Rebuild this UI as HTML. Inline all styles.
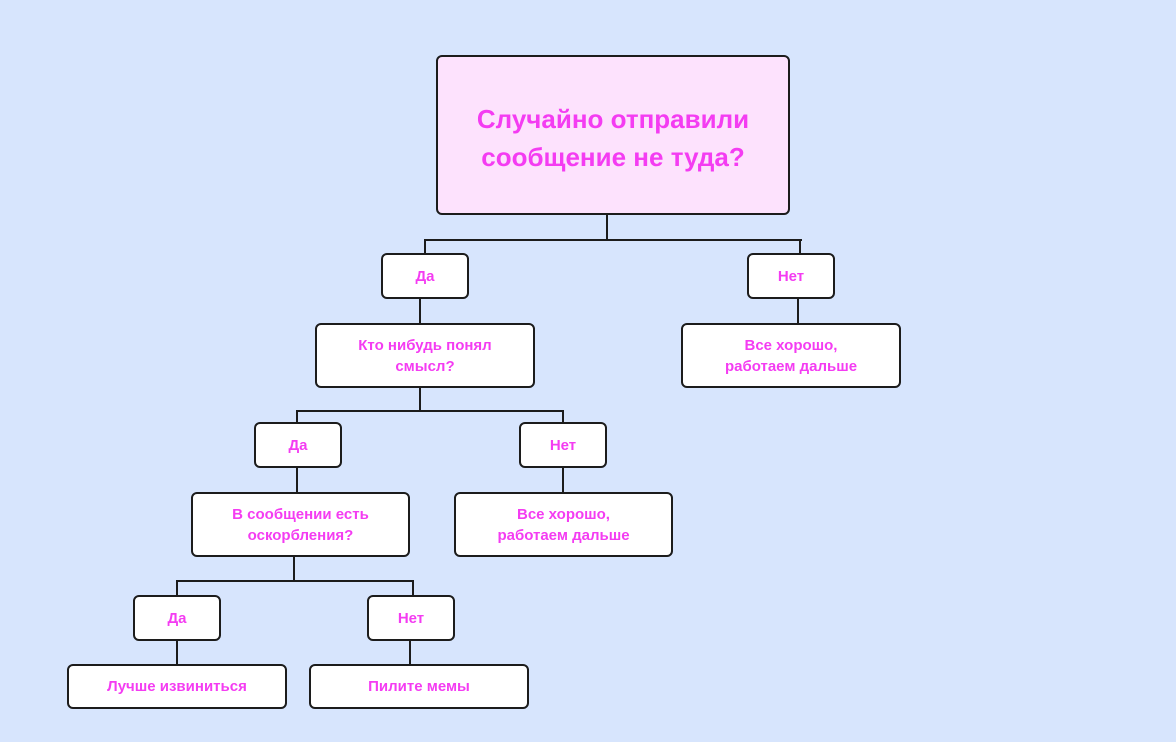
<!DOCTYPE html>
<html><head><meta charset="utf-8"><style>
body{margin:0;width:1176px;height:742px;background:#d7e5fd;position:relative;overflow:hidden;font-family:"Liberation Sans","DejaVu Sans",sans-serif;}
.b{position:absolute;box-sizing:border-box;border:2px solid #1c1c1c;border-radius:6px;background:#fff;display:flex;align-items:center;justify-content:center;text-align:center;color:#f43cf2;font-weight:bold;font-size:15px;line-height:21px;}
.l{position:absolute;background:#1c1c1c;}
</style></head><body>
<div class="b" style="left:436px;top:55px;width:354px;height:160px;background:#fde2fd;font-size:26px;line-height:38px;padding-top:6px;">Случайно отправили<br>сообщение не туда?</div>
<div class="l" style="left:606px;top:214px;width:2px;height:27px"></div>
<div class="l" style="left:424px;top:239px;width:378px;height:2px"></div>
<div class="l" style="left:424px;top:239px;width:2px;height:15px"></div>
<div class="l" style="left:799px;top:239px;width:2px;height:15px"></div>
<div class="b" style="left:381px;top:253px;width:88px;height:46px">Да</div>
<div class="b" style="left:747px;top:253px;width:88px;height:46px">Нет</div>
<div class="l" style="left:419px;top:298px;width:2px;height:26px"></div>
<div class="l" style="left:797px;top:298px;width:2px;height:26px"></div>
<div class="b" style="left:315px;top:323px;width:220px;height:65px">Кто нибудь понял<br>смысл?</div>
<div class="b" style="left:681px;top:323px;width:220px;height:65px">Все хорошо,<br>работаем дальше</div>
<div class="l" style="left:419px;top:387px;width:2px;height:25px"></div>
<div class="l" style="left:296px;top:410px;width:268px;height:2px"></div>
<div class="l" style="left:296px;top:410px;width:2px;height:13px"></div>
<div class="l" style="left:562px;top:410px;width:2px;height:13px"></div>
<div class="b" style="left:254px;top:422px;width:88px;height:46px">Да</div>
<div class="b" style="left:519px;top:422px;width:88px;height:46px">Нет</div>
<div class="l" style="left:296px;top:467px;width:2px;height:26px"></div>
<div class="l" style="left:562px;top:467px;width:2px;height:26px"></div>
<div class="b" style="left:191px;top:492px;width:219px;height:65px">В сообщении есть<br>оскорбления?</div>
<div class="b" style="left:454px;top:492px;width:219px;height:65px">Все хорошо,<br>работаем дальше</div>
<div class="l" style="left:293px;top:556px;width:2px;height:26px"></div>
<div class="l" style="left:176px;top:580px;width:238px;height:2px"></div>
<div class="l" style="left:176px;top:580px;width:2px;height:16px"></div>
<div class="l" style="left:412px;top:580px;width:2px;height:16px"></div>
<div class="b" style="left:133px;top:595px;width:88px;height:46px">Да</div>
<div class="b" style="left:367px;top:595px;width:88px;height:46px">Нет</div>
<div class="l" style="left:176px;top:640px;width:2px;height:25px"></div>
<div class="l" style="left:409px;top:640px;width:2px;height:25px"></div>
<div class="b" style="left:67px;top:664px;width:220px;height:45px">Лучше извиниться</div>
<div class="b" style="left:309px;top:664px;width:220px;height:45px">Пилите мемы</div>
</body></html>
